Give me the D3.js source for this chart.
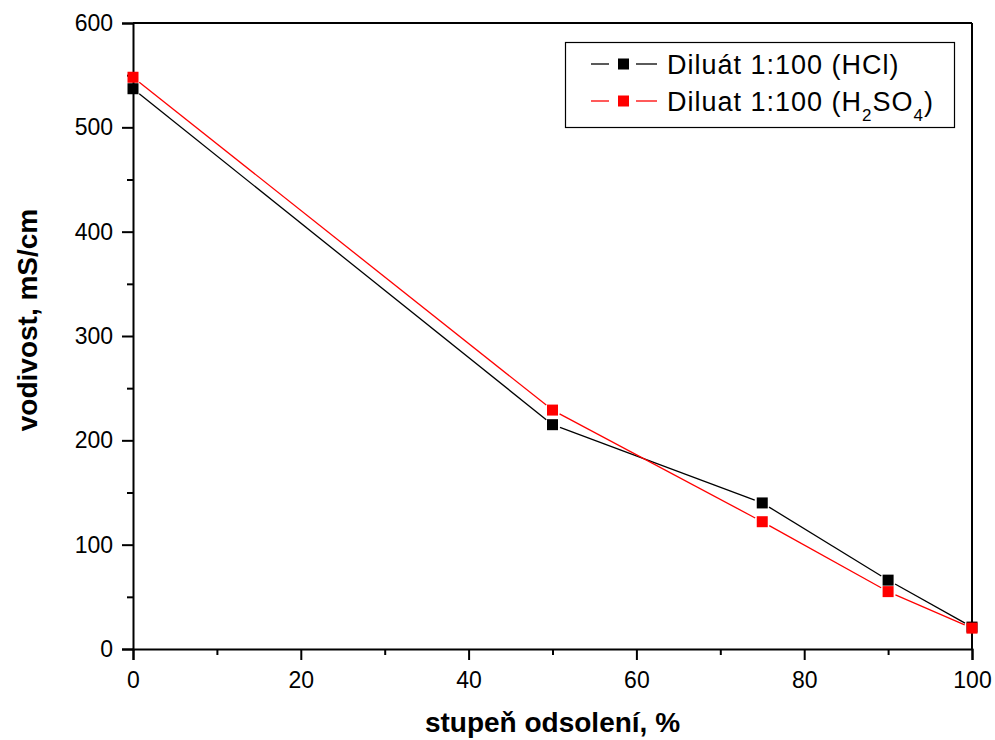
<!DOCTYPE html>
<html>
<head>
<meta charset="utf-8">
<script src="https://cdn.jsdelivr.net/npm/d3@7"></script>
<style>
  html, body { margin: 0; padding: 0; background: #fff; }
  svg { display: block; font-family: "Liberation Sans", Arial, sans-serif; }
</style>
</head>
<body>
<svg id="chart" width="995" height="740"></svg>
<script>
// Desalination degree (%) and conductivity (mS/cm) for two diluate series
const desalination = [0, 50, 75, 90, 100];
const conductivityHCl = [537, 215, 140, 66, 21];
const conductivityH2SO4 = [548, 229, 122, 55, 20];

const xTicks = [0, 20, 40, 60, 80, 100];
const xMinorTicks = [10, 30, 50, 70, 90];
const yTicks = [0, 100, 200, 300, 400, 500, 600];
const yMinorTicks = [50, 150, 250, 350, 450, 550];

const seriesNames = ["Diluát 1:100 (HCl)", "Diluat 1:100 (H2SO4)"];
const seriesColors = ["#000000", "#ff0000"];

const svg = d3.select("#chart");
const plotLeft = 133, plotRight = 972, plotTop = 23, plotBottom = 649;

const x = d3.scaleLinear().domain([0, 100]).range([plotLeft, plotRight]);
const y = d3.scaleLinear().domain([0, 600]).range([plotBottom, plotTop]);

// Frame (top and right borders)
svg.append("line").attr("x1", plotLeft).attr("x2", plotRight).attr("y1", plotTop).attr("y2", plotTop)
  .attr("stroke", "#000").attr("stroke-width", 2);
svg.append("line").attr("x1", plotRight).attr("x2", plotRight).attr("y1", plotTop).attr("y2", plotBottom)
  .attr("stroke", "#000").attr("stroke-width", 2);

// Bottom axis
svg.append("g").attr("transform", `translate(0,${plotBottom})`)
  .call(d3.axisBottom(x).tickValues(xTicks).tickSize(11).tickPadding(12).tickFormat(d3.format("d")));
svg.append("g").attr("transform", `translate(0,${plotBottom})`)
  .call(d3.axisBottom(x).tickValues(xMinorTicks).tickSize(6).tickFormat(""))
  .call(g => g.select(".domain").remove());

// Left axis
svg.append("g").attr("transform", `translate(${plotLeft},0)`)
  .call(d3.axisLeft(y).tickValues(yTicks).tickSize(11).tickPadding(9).tickFormat(d3.format("d")));
svg.append("g").attr("transform", `translate(${plotLeft},0)`)
  .call(d3.axisLeft(y).tickValues(yMinorTicks).tickSize(6).tickFormat(""))
  .call(g => g.select(".domain").remove());

svg.selectAll(".domain").attr("stroke", "#000").attr("stroke-width", 2);
svg.selectAll(".tick line").attr("stroke", "#000").attr("stroke-width", 2);
svg.selectAll(".tick text").attr("fill", "#000")
  .style("font-family", "'Liberation Sans', Arial, sans-serif").style("font-size", "23px");

// Axis titles
svg.append("text")
  .attr("x", (plotLeft + plotRight) / 2).attr("y", 732)
  .attr("text-anchor", "middle")
  .style("font-size", "28px").style("font-weight", "bold")
  .text("stupeň odsolení, %");

svg.append("text")
  .attr("transform", "translate(37,320) rotate(-90)")
  .attr("text-anchor", "middle")
  .style("font-size", "28px").style("font-weight", "bold")
  .text("vodivost, mS/cm");

// Series: line segments stop short of each marker, markers drawn on top
const markerSize = 11;
const gap = 8;

function drawSeries(values, color) {
  const pts = desalination.map((d, i) => [x(d), y(values[i])]);
  const g = svg.append("g");
  for (let i = 0; i < pts.length - 1; i++) {
    const [x1, y1] = pts[i], [x2, y2] = pts[i + 1];
    const len = Math.hypot(x2 - x1, y2 - y1);
    const ux = (x2 - x1) / len, uy = (y2 - y1) / len;
    g.append("line")
      .attr("x1", x1 + ux * gap).attr("y1", y1 + uy * gap)
      .attr("x2", x2 - ux * gap).attr("y2", y2 - uy * gap)
      .attr("stroke", color).attr("stroke-width", 1.3);
  }
  g.selectAll("rect").data(pts).join("rect")
    .attr("x", d => d[0] - markerSize / 2)
    .attr("y", d => d[1] - markerSize / 2)
    .attr("width", markerSize).attr("height", markerSize)
    .attr("fill", color);
}

drawSeries(conductivityHCl, seriesColors[0]);
drawSeries(conductivityH2SO4, seriesColors[1]);

// Legend
const legend = svg.append("g");
legend.append("rect")
  .attr("x", 565.5).attr("y", 42.5).attr("width", 389).attr("height", 85)
  .attr("fill", "#fff").attr("stroke", "#000").attr("stroke-width", 1.2);

const rowY = [64, 101];
const baseY = [74, 111];
seriesNames.forEach((name, i) => {
  const c = seriesColors[i];
  legend.append("line").attr("x1", 591).attr("x2", 609).attr("y1", rowY[i]).attr("y2", rowY[i])
    .attr("stroke", c).attr("stroke-width", 1.3);
  legend.append("line").attr("x1", 636).attr("x2", 657).attr("y1", rowY[i]).attr("y2", rowY[i])
    .attr("stroke", c).attr("stroke-width", 1.3);
  legend.append("rect")
    .attr("x", 623.5 - markerSize / 2).attr("y", rowY[i] - markerSize / 2)
    .attr("width", markerSize).attr("height", markerSize).attr("fill", c);
});

legend.append("text")
  .attr("x", 667).attr("y", baseY[0])
  .style("font-size", "27px").style("letter-spacing", "1px")
  .text(seriesNames[0]);

const t2 = legend.append("text")
  .attr("x", 667).attr("y", baseY[1])
  .style("font-size", "27px").style("letter-spacing", "1px");
t2.append("tspan").text("Diluat 1:100 (H");
t2.append("tspan").attr("dy", 10).style("font-size", "17px").text("2");
t2.append("tspan").attr("dy", -10).text("SO");
t2.append("tspan").attr("dy", 10).style("font-size", "17px").text("4");
t2.append("tspan").attr("dy", -10).text(")");
</script>
</body>
</html>
